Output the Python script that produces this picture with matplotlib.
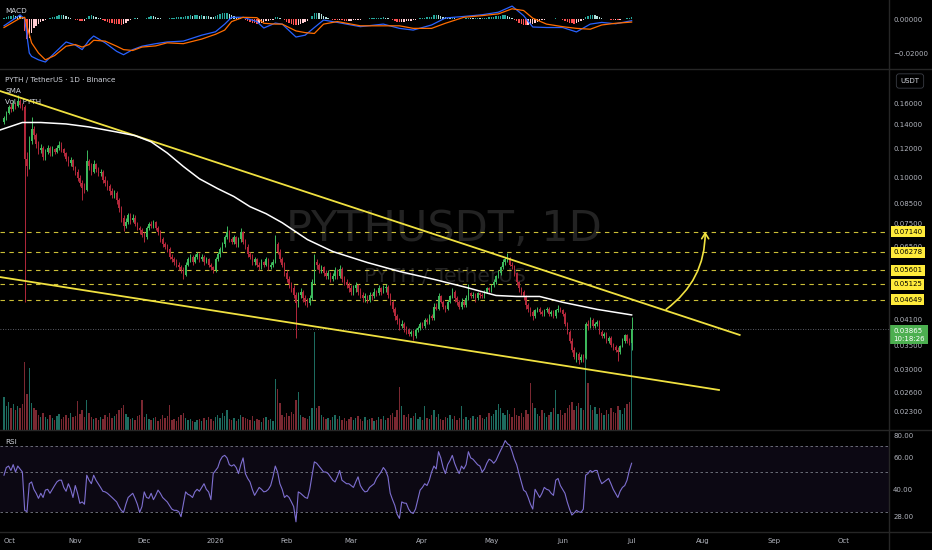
import numpy as np
import matplotlib
matplotlib.use("Agg")
import matplotlib.pyplot as plt
import matplotlib.transforms as mtrans
from matplotlib.patches import FancyArrowPatch
from matplotlib.lines import Line2D
from matplotlib.ticker import NullLocator

plt.rcParams['font.family'] = ['DejaVu Sans']

# ---- data: one daily candle per entry, day 0 = 2025-10-01 ----
start_date = np.datetime64("2025-10-01")
first_open = 0.142
closes = [
    0.146, 0.150, 0.156, 0.154, 0.159, 0.157, 0.162, 0.158, 0.156, 0.113,
    0.108, 0.126, 0.136, 0.131, 0.124, 0.119, 0.121, 0.114, 0.118, 0.121,
    0.117, 0.120, 0.118, 0.121, 0.123, 0.120, 0.117, 0.113, 0.110, 0.112,
    0.107, 0.104, 0.100, 0.097, 0.094, 0.093, 0.111, 0.108, 0.104, 0.109,
    0.106, 0.103, 0.104, 0.099, 0.097, 0.095, 0.092, 0.090, 0.091, 0.087,
    0.083, 0.078, 0.074, 0.076, 0.079, 0.077, 0.078, 0.075, 0.073, 0.072,
    0.070, 0.069, 0.073, 0.075, 0.074, 0.076, 0.073, 0.071, 0.068, 0.066,
    0.065, 0.064, 0.061, 0.060, 0.059, 0.058, 0.057, 0.056, 0.0545, 0.058,
    0.060, 0.061, 0.059, 0.061, 0.062, 0.060, 0.061, 0.059, 0.060, 0.058,
    0.057, 0.056, 0.060, 0.062, 0.064, 0.066, 0.069, 0.071, 0.068, 0.067,
    0.069, 0.066, 0.068, 0.071, 0.067, 0.065, 0.062, 0.061, 0.059, 0.060,
    0.058, 0.057, 0.059, 0.058, 0.060, 0.057, 0.058, 0.059, 0.066, 0.063,
    0.060, 0.058, 0.055, 0.053, 0.0515, 0.050, 0.048, 0.0455, 0.048, 0.049,
    0.047, 0.046, 0.0455, 0.047, 0.052, 0.059, 0.058, 0.056, 0.057, 0.055,
    0.054, 0.055, 0.053, 0.054, 0.056, 0.054, 0.0565, 0.053, 0.052, 0.051,
    0.050, 0.049, 0.050, 0.051, 0.049, 0.048, 0.047, 0.0475, 0.0465, 0.048,
    0.0475, 0.049, 0.0485, 0.050, 0.049, 0.050, 0.0505, 0.048, 0.046, 0.044,
    0.042, 0.041, 0.0395, 0.040, 0.039, 0.0385, 0.0375, 0.038, 0.037, 0.0385,
    0.039, 0.040, 0.0395, 0.041, 0.0405, 0.042, 0.0415, 0.0445, 0.044, 0.0475,
    0.046, 0.0445, 0.044, 0.046, 0.0475, 0.049, 0.047, 0.046, 0.0445, 0.046,
    0.045, 0.047, 0.0485, 0.0475, 0.048, 0.047, 0.0485, 0.048, 0.0475, 0.049,
    0.050, 0.0495, 0.051, 0.052, 0.054, 0.055, 0.057, 0.059, 0.060, 0.0605,
    0.058, 0.0575, 0.055, 0.052, 0.050, 0.049, 0.0475, 0.045, 0.044, 0.043,
    0.042, 0.0435, 0.044, 0.043, 0.0425, 0.0435, 0.044, 0.0425, 0.043, 0.042,
    0.0435, 0.044, 0.0435, 0.0425, 0.040, 0.038, 0.036, 0.034, 0.0325, 0.033,
    0.0318, 0.0325, 0.0322, 0.040, 0.0395, 0.041, 0.0395, 0.040, 0.0405, 0.038,
    0.037, 0.0375, 0.036, 0.0365, 0.035, 0.0345, 0.034, 0.0335, 0.0348, 0.036,
    0.0372, 0.036, 0.0355, 0.03865,
]
highs = [
    0.148, 0.152, 0.158, 0.160, 0.163, 0.161, 0.168, 0.164, 0.160, 0.158,
    0.118, 0.130, 0.147, 0.139, 0.133, 0.126, 0.124, 0.122, 0.120, 0.123,
    0.122, 0.122, 0.121, 0.123, 0.126, 0.125, 0.121, 0.118, 0.115, 0.114,
    0.113, 0.108, 0.106, 0.102, 0.099, 0.097, 0.119, 0.113, 0.110, 0.112,
    0.110, 0.107, 0.106, 0.105, 0.101, 0.099, 0.096, 0.094, 0.093, 0.092,
    0.088, 0.084, 0.079, 0.078, 0.080, 0.080, 0.0795, 0.079, 0.076, 0.074,
    0.073, 0.071, 0.074, 0.076, 0.0765, 0.077, 0.0765, 0.074, 0.072, 0.069,
    0.067, 0.066, 0.065, 0.062, 0.061, 0.060, 0.059, 0.058, 0.057, 0.059,
    0.061, 0.062, 0.0615, 0.062, 0.063, 0.0625, 0.062, 0.0615, 0.061, 0.0605,
    0.0585, 0.0575, 0.061, 0.063, 0.065, 0.067, 0.070, 0.074, 0.072, 0.069,
    0.070, 0.0695, 0.069, 0.073, 0.0715, 0.068, 0.066, 0.063, 0.062, 0.061,
    0.0605, 0.059, 0.060, 0.0595, 0.061, 0.0605, 0.059, 0.060, 0.070, 0.067,
    0.064, 0.061, 0.059, 0.056, 0.054, 0.052, 0.051, 0.049, 0.049, 0.050,
    0.0495, 0.048, 0.047, 0.048, 0.053, 0.062, 0.060, 0.0585, 0.058, 0.0575,
    0.056, 0.056, 0.0555, 0.055, 0.057, 0.0565, 0.058, 0.057, 0.054, 0.053,
    0.052, 0.051, 0.051, 0.052, 0.0515, 0.050, 0.049, 0.0485, 0.048, 0.049,
    0.0485, 0.050, 0.0495, 0.051, 0.0505, 0.051, 0.0515, 0.051, 0.0485, 0.0465,
    0.0445, 0.0425, 0.0415, 0.041, 0.0405, 0.0395, 0.039, 0.0385, 0.0385, 0.039,
    0.0395, 0.0405, 0.0405, 0.0415, 0.0415, 0.0425, 0.0425, 0.0455, 0.0455, 0.0485,
    0.048, 0.0465, 0.045, 0.0465, 0.048, 0.050, 0.0495, 0.0475, 0.0465, 0.047,
    0.0465, 0.048, 0.0515, 0.049, 0.049, 0.0485, 0.049, 0.049, 0.0485, 0.0495,
    0.0505, 0.0505, 0.0515, 0.053, 0.0545, 0.056, 0.0575, 0.060, 0.061, 0.0625,
    0.061, 0.059, 0.058, 0.0555, 0.0525, 0.0505, 0.0495, 0.048, 0.0455, 0.0445,
    0.0435, 0.044, 0.0445, 0.0445, 0.0435, 0.044, 0.0445, 0.0445, 0.0435, 0.0435,
    0.044, 0.045, 0.0445, 0.044, 0.043, 0.0405, 0.0385, 0.0365, 0.0345, 0.0335,
    0.0335, 0.033, 0.033, 0.0405, 0.041, 0.0418, 0.0415, 0.0405, 0.041, 0.041,
    0.0385, 0.038, 0.038, 0.037, 0.037, 0.0355, 0.035, 0.0345, 0.035, 0.0365,
    0.0375, 0.0375, 0.0365, 0.0418,
]
lows = [
    0.140, 0.144, 0.149, 0.151, 0.152, 0.154, 0.156, 0.155, 0.153, 0.046,
    0.101, 0.106, 0.124, 0.128, 0.121, 0.116, 0.117, 0.112, 0.112, 0.116,
    0.115, 0.115, 0.116, 0.117, 0.119, 0.118, 0.115, 0.111, 0.108, 0.108,
    0.105, 0.102, 0.098, 0.095, 0.087, 0.091, 0.092, 0.105, 0.102, 0.103,
    0.104, 0.101, 0.101, 0.097, 0.095, 0.093, 0.090, 0.088, 0.088, 0.085,
    0.081, 0.076, 0.0715, 0.073, 0.075, 0.075, 0.076, 0.074, 0.072, 0.0705,
    0.069, 0.067, 0.068, 0.072, 0.073, 0.073, 0.072, 0.070, 0.067, 0.065,
    0.064, 0.063, 0.060, 0.059, 0.058, 0.057, 0.056, 0.055, 0.053, 0.054,
    0.0575, 0.059, 0.058, 0.0585, 0.060, 0.059, 0.0595, 0.058, 0.0585, 0.057,
    0.056, 0.055, 0.0555, 0.0595, 0.061, 0.063, 0.065, 0.068, 0.067, 0.066,
    0.066, 0.065, 0.065, 0.067, 0.066, 0.064, 0.061, 0.060, 0.058, 0.058,
    0.057, 0.056, 0.0565, 0.057, 0.0575, 0.056, 0.0565, 0.057, 0.0585, 0.062,
    0.059, 0.057, 0.054, 0.052, 0.050, 0.049, 0.047, 0.0365, 0.0445, 0.047,
    0.046, 0.045, 0.0445, 0.045, 0.0465, 0.0515, 0.0565, 0.055, 0.055, 0.054,
    0.053, 0.053, 0.052, 0.0525, 0.053, 0.053, 0.0535, 0.052, 0.051, 0.050,
    0.049, 0.048, 0.048, 0.049, 0.048, 0.047, 0.046, 0.046, 0.0455, 0.046,
    0.0465, 0.047, 0.0475, 0.048, 0.048, 0.0485, 0.049, 0.047, 0.045, 0.043,
    0.041, 0.040, 0.0385, 0.039, 0.038, 0.0375, 0.037, 0.037, 0.0362, 0.0365,
    0.038, 0.0385, 0.039, 0.039, 0.040, 0.040, 0.041, 0.041, 0.0435, 0.0435,
    0.0455, 0.044, 0.043, 0.0435, 0.0455, 0.047, 0.046, 0.045, 0.044, 0.044,
    0.0445, 0.0445, 0.0465, 0.047, 0.047, 0.046, 0.0465, 0.047, 0.047, 0.047,
    0.0485, 0.049, 0.049, 0.0505, 0.0515, 0.0535, 0.0545, 0.0565, 0.058, 0.059,
    0.0575, 0.0565, 0.054, 0.051, 0.049, 0.048, 0.0465, 0.044, 0.043, 0.042,
    0.041, 0.0415, 0.043, 0.0425, 0.042, 0.042, 0.043, 0.042, 0.042, 0.0415,
    0.0415, 0.043, 0.043, 0.042, 0.0395, 0.0375, 0.0355, 0.0335, 0.032, 0.0315,
    0.031, 0.0315, 0.0315, 0.032, 0.0385, 0.039, 0.039, 0.039, 0.0395, 0.0375,
    0.0365, 0.0365, 0.0355, 0.0355, 0.0345, 0.034, 0.0335, 0.0316, 0.033, 0.0345,
    0.0355, 0.0355, 0.035, 0.034,
]
volumes = [
    30, 22, 26, 20, 24, 18, 22, 20, 24, 63, 33, 57, 25,
    20, 18, 14, 12, 16,
    12, 10, 14, 11, 9, 13, 15, 10, 12, 14, 11, 16, 12, 13, 27,
    15, 18, 12, 28, 16, 12, 10, 11,
    9, 12, 10, 14, 12, 16, 11, 13, 15, 18, 20, 23,
    15, 12, 10, 11, 9, 13, 14, 28,
    12, 15, 10, 9, 11, 12, 8, 10, 14, 11, 13, 23,
    9, 10, 8, 12, 14, 16, 11, 9, 10, 8, 7, 9, 10, 8, 11, 9, 12, 10, 8,
    12, 14, 11, 16, 13, 18, 10, 9, 11, 8, 10, 14, 12, 11, 10, 9, 13, 8, 10, 9,
    7, 11, 12, 9, 10, 8,
    47, 38, 25, 14, 12, 16, 13, 17, 15, 28, 35,
    14, 12, 11, 10, 13, 20, 90,
    20, 22, 14, 12, 10, 11, 9, 12, 14, 10, 13, 9, 11, 8, 10, 12, 9, 11,
    13, 10, 8, 12, 9, 10, 11, 8, 9, 12, 10, 13, 9, 11, 14, 16, 12, 18,
    40,
    22, 14, 12, 15, 11, 13, 16, 10, 12, 9, 22, 11, 10, 14, 18, 12, 15, 10, 9, 12,
    11, 14, 10, 13, 9, 11, 22, 10, 12, 9, 11, 13, 10, 12, 14, 11, 10, 12, 16, 13,
    15, 18, 24, 20, 16, 14, 18, 15, 12, 20, 14, 13, 16, 12, 18, 15,
    43,
    25, 20, 15, 13, 18, 16, 12, 14, 17, 20, 37, 15, 18, 14, 16, 20, 23, 26, 18, 22,
    25, 20, 18, 67, 43,
    23, 18, 21, 15, 20, 16, 14, 18, 15, 20, 17, 16, 22, 18, 15, 20, 24, 26, 80,
]
# MACD histogram, units of 1e-4
macd_hist = [
    8, 12, 18, 20, 22, 20, 18, 15, 5, -70, -120, -110, -80,
    -55, -40, -30, -20, -12, -5, 2, 6, 10, 14,
    20, 24, 26, 22, 16, 10, 6, 2, -4, -8, -12, -14,
    -10, 8, 18, 24, 20, 14, 8, 4,
    -4, -10, -16, -22, -26, -28, -30, -32, -34, -30, -22, -14,
    -6, 2, 6, 4, 2, -2,
    2, 8, 14, 16, 15, 12, 8, 4, 2, 0, 2, 4,
    6, 8, 9, 10, 12, 14, 18, 20, 22, 20, 22, 24, 20, 22, 18, 20, 16, 14, 12,
    18, 24, 30, 34, 36, 36, 30, 24, 20, 14, 10, 8, 2, -6, -14, -20, -24,
    -26, -28, -26, -22, -18, -14, -10, -6, -4,
    10, 14, 8, 2,
    -8, -16, -24, -30, -34, -38, -34, -28, -22, -16, -10,
    0, 16, 34, 38, 34, 28, 20,
    12, 6, 0, -4, -6, -8, -6, -8, -10, -12, -12,
    -10, -8, -6, -4, -4, -2, 0, 2, 4, 4, 6, 8, 8, 8, 10, 8, 4, -2,
    -8, -14, -18, -20, -20, -18, -14, -12, -10, -8, -4, 0,
    4, 6, 8, 10, 12, 14, 22, 24, 22, 18, 14, 10, 8, 6,
    8, 6, 2, -2, 0, 2, 4, 8, 6, 4, 4, 6, 4, 4, 6, 8,
    10, 12, 14, 16, 18, 20, 22, 22, 20, 14, 8,
    -4, -14, -24, -32, -36, -38, -38, -34, -28, -22, -16, -12, -8, -4, -2,
    0, 2, 2, 4, 2, 0, -4, -10, -16, -22, -26, -28, -26,
    -20, -14, -8, 10, 20, 26, 26, 22, 18, 10, 4,
    0, -2, -2, -4, -6, -6, -8, -6, -2, 2, 4, 4, 12,
]
rsi = [
    48, 53, 54, 51, 55, 50, 54, 52, 50, 30.5,
    30, 43, 44, 40, 38, 35.6, 38, 36, 39.6, 40,
    38, 40, 42, 44, 45, 45, 41, 39, 43, 40,
    36, 42, 38, 33.4, 34, 33, 48, 45, 43, 48,
    45, 43, 41, 39, 38.7, 38, 37, 36, 35, 34,
    32, 30.5, 29.7, 33, 36, 37, 38, 35.6, 33, 29.7,
    32, 38.7, 36, 35.6, 38, 35, 37, 39.6, 38, 36,
    35, 34, 32.5, 31, 30.5, 30.5, 30, 28.1, 33, 38.7,
    37.5, 37, 36, 38.7, 40, 39, 41, 43, 40, 38.7,
    35, 49, 51, 53, 58, 61, 62, 60, 55, 54,
    55, 53, 49, 55, 60, 49, 46, 44, 40, 37,
    39, 41, 40, 38.7, 39, 40, 42, 47, 54, 50,
    43, 40, 36, 37, 36, 34, 32, 26.3, 38.7, 38,
    37, 36, 35.6, 40, 48, 57, 56, 54, 52, 50,
    50, 49, 47, 45, 44, 47, 51, 45, 44, 43,
    43, 42, 41, 44, 47, 42, 40, 38.7, 39, 41,
    42, 43, 46, 48, 50, 53, 51, 47, 38, 35,
    32.5, 29, 27.5, 34, 33.5, 33.4, 31, 29.7, 29.3, 31,
    35, 39.6, 41, 43, 42, 45, 50, 54, 52, 65,
    60, 53, 49, 55, 58, 62, 56, 52, 49, 54,
    52, 55, 65, 60, 59, 57, 55, 54, 50, 52,
    56, 59, 58, 56, 58, 62, 66, 70, 75, 72,
    70.6, 65, 59, 55, 49, 44, 39.6, 38.7, 36, 33,
    31, 40, 38, 36, 38, 41, 40, 39.6, 38, 37,
    45, 46, 42, 40, 38, 34, 31, 28.7, 29.5, 30.5,
    29.9, 29.7, 31, 48, 49, 51, 50, 51, 51, 46,
    43, 44, 45, 46, 43, 40, 38, 36, 39, 41,
    42, 45, 51, 56,
]

sma_days = [-2, 8, 16, 27, 37, 49, 57, 64, 71, 78, 85, 93, 100, 107, 114, 121,
            132, 143, 158, 172, 187, 201, 214, 223, 233, 243, 258, 273]
sma_vals = [0.1350, 0.1417, 0.1417, 0.1404, 0.1378, 0.1335, 0.1305, 0.1255,
            0.1170, 0.1075, 0.0995, 0.0935, 0.0890, 0.0835, 0.0799, 0.0755,
            0.0679, 0.0630, 0.0588, 0.0556, 0.0529, 0.0503, 0.0478, 0.0475,
            0.0475, 0.0458, 0.0438, 0.0423]

macd_days = [0, 7, 9, 11, 12, 15, 18, 22, 27, 31, 34, 37, 39, 44, 49, 52, 56,
             60, 66, 71, 78, 86, 92, 96, 99, 104, 110, 113, 118, 121, 127, 131,
             135, 139, 145, 155, 165, 172, 178, 186, 192, 200, 208, 215, 221,
             226, 230, 236, 243, 249, 255, 260, 266, 273]
macd_line = [-0.004, 0.0024, 0.000, -0.020, -0.022, -0.024, -0.0253, -0.020,
             -0.0135, -0.0153, -0.018, -0.0125, -0.010, -0.014, -0.019, -0.021,
             -0.018, -0.016, -0.0145, -0.0135, -0.013, -0.0095, -0.0075, -0.003,
             0.001, 0.001, -0.0015, -0.0053, -0.0024, -0.003, -0.0106, -0.0095,
             -0.005, -0.0006, -0.002, -0.0045, -0.003, -0.0055, -0.0065, -0.0035,
             0.0006, 0.0015, 0.0025, 0.004, 0.0076, 0.002, -0.0047, -0.005,
             -0.005, -0.0076, -0.003, -0.002, -0.0028, -0.001]
signal_line = [-0.005, 0.0005, 0.001, -0.009, -0.014, -0.020, -0.024, -0.0215,
               -0.016, -0.015, -0.0165, -0.015, -0.0125, -0.013, -0.016, -0.018,
               -0.0185, -0.0165, -0.0158, -0.014, -0.0145, -0.0118, -0.009,
               -0.0065, -0.0015, 0.001, 0.0008, -0.0025, -0.003, -0.003, -0.007,
               -0.008, -0.0085, -0.003, -0.0015, -0.004, -0.004, -0.004, -0.0055,
               -0.0055, -0.0025, 0.001, 0.002, 0.003, 0.006, 0.005, 0.0005,
               -0.003, -0.0045, -0.0055, -0.006, -0.0035, -0.0025, -0.0018]

# drawn trendlines (date, price)
upper_trend_dates = ["2025-09-29", "2026-08-17"]
upper_trend_prices = [0.1729, 0.0373]
lower_trend_dates = ["2025-09-29", "2026-08-08"]
lower_trend_prices = [0.0537, 0.0264]
arrow_dates = ["2026-07-16", "2026-08-02"]
arrow_prices = [0.0438, 0.0714]

levels = [0.07140, 0.06278, 0.05601, 0.05125, 0.04649]
last_price = 0.03865
countdown = "10:18:26"

price_ticks = [0.16, 0.14, 0.12, 0.10, 0.085, 0.075, 0.065, 0.041, 0.035,
               0.030, 0.026, 0.023]
macd_ticks = [0.0, -0.02]
rsi_ticks = [80, 60, 40, 28]
month_dates = ["2025-10-01", "2025-11-01", "2025-12-01", "2026-01-01",
               "2026-02-01", "2026-03-01", "2026-04-01", "2026-05-01",
               "2026-06-01", "2026-07-01", "2026-08-01", "2026-09-01",
               "2026-10-01"]
month_labels = ["Oct", "Nov", "Dec", "2026", "Feb", "Mar", "Apr", "May", "Jun",
                "Jul", "Aug", "Sep", "Oct"]

# ---- prep ----
closes = np.array(closes)
highs = np.array(highs)
lows = np.array(lows)
n = len(closes)
days = np.arange(n)
opens = np.r_[first_open, closes[:-1]]
rising = closes >= opens


def to_days(dates):
    return (np.array(dates, dtype="datetime64[D]") - start_date).astype(int)


BG = "#000000"
TXT = "#b2b5be"
UP = "#3dbb5d"
DOWN = "#b3283b"
YEL = "#f0e140"

W, H = 932, 550
fig = plt.figure(figsize=(W / 100, H / 100), dpi=100, facecolor=BG)


def rect(top, bottom):
    return [0, 1 - bottom / H, 889 / W, (bottom - top) / H]


ax_macd = fig.add_axes(rect(0, 69))
ax_vol = fig.add_axes(rect(69, 430), sharex=ax_macd)
ax = fig.add_axes(rect(69, 430), sharex=ax_macd)
ax_rsi = fig.add_axes(rect(430, 532), sharex=ax_macd)

for a in (ax_macd, ax_vol, ax, ax_rsi):
    a.set_facecolor(BG)
    for s in a.spines.values():
        s.set_visible(False)
    a.tick_params(colors=TXT, labelsize=5, length=0, pad=3)
    a.yaxis.tick_right()
ax.set_facecolor("none")
for a in (ax_macd, ax_vol, ax):
    a.tick_params(axis="x", labelbottom=False)
ax_vol.set_yticks([])

ax_macd.set_xlim(-1.74, 384.95)

# ---- volume + watermark (background layer) ----
ax_vol.bar(days, volumes, width=0.6, linewidth=0,
           color=np.where(rising, "#1d6b5f", "#7a2831"))
ax_vol.set_ylim(0, max(volumes) * 3.7)
ax_vol.text(444 / 889, 0.557, "PYTHUSDT, 1D", transform=ax_vol.transAxes,
            fontsize=31, color="#232323", ha="center", va="center")
ax_vol.text(445 / 889, 0.424, "PYTH / TetherUS", transform=ax_vol.transAxes,
            fontsize=14.5, color="#232323", ha="center", va="center")

# ---- price ----
ax.set_yscale("log")
ax.set_ylim(0.02053, 0.1983)
ax.set_yticks(price_ticks)
ax.set_yticklabels([f"{t:.5f}" for t in price_ticks])
ax.yaxis.set_minor_locator(NullLocator())

for lv in levels:
    ax.axhline(lv, color=YEL, ls=(0, (4, 4)), lw=0.8, alpha=0.85, zorder=2)
ax.axhline(last_price, color="#787b86", ls=(0, (1, 2)), lw=0.6, zorder=2)

ax.plot(to_days(upper_trend_dates), upper_trend_prices, color=YEL, lw=1.3, zorder=5)
ax.plot(to_days(lower_trend_dates), lower_trend_prices, color=YEL, lw=1.3, zorder=5)
ax.plot(sma_days, sma_vals, color="#ffffff", lw=1.1, zorder=5)

cols = np.where(rising, UP, DOWN)
ax.vlines(days, lows, highs, colors=cols, lw=0.7, zorder=3)
body_low = np.minimum(opens, closes)
ax.bar(days, np.abs(closes - opens), bottom=body_low, width=0.62,
       color=cols, linewidth=0, zorder=4)

ad = to_days(arrow_dates)
ax.add_patch(FancyArrowPatch((ad[0], arrow_prices[0]), (ad[1], arrow_prices[1]),
                             connectionstyle="arc3,rad=0.25",
                             arrowstyle="->,head_length=4,head_width=2.5",
                             color=YEL, lw=1.2, shrinkA=0, shrinkB=0, zorder=6))

lbl = dict(transform=ax.transAxes, fontsize=5.2, color="#d1d4dc", ha="left", va="center")
ax.text(5 / 889, 0.9695, "PYTH / TetherUS · 1D · Binance", **lbl)
ax.text(5 / 889, 0.939, "SMA", **lbl)
ax.text(5 / 889, 0.9086, "Vol · PYTH", **lbl)

tag_tf = mtrans.blended_transform_factory(ax.transAxes, ax.transData)
for lv in levels:
    ax.text(1.0 + 4 / 889, lv, f"{lv:.5f}", transform=tag_tf, fontsize=5,
            color="black", ha="left", va="center", clip_on=False, zorder=10,
            bbox=dict(boxstyle="square,pad=0.35", fc="#ffeb3b", ec="none"))
ax.annotate(f"{last_price:.5f}\n{countdown}", xy=(1.0, last_price),
            xycoords=tag_tf, xytext=(3, -4), textcoords="offset points",
            fontsize=5, color="white", ha="left", va="center", linespacing=1.3,
            annotation_clip=False, zorder=11,
            bbox=dict(boxstyle="square,pad=0.4", fc="#4caf50", ec="none"))

# ---- MACD ----
hist = np.array(macd_hist) * 1e-4
prev = np.r_[0.0, hist[:-1]]
hcol = np.where(hist >= 0, np.where(hist >= prev, "#26a69a", "#b2dfdb"),
                np.where(hist < prev, "#ff5252", "#ffcdd2"))
ax_macd.bar(days, hist, width=0.6, color=hcol, linewidth=0)
ax_macd.plot(macd_days, macd_line, color="#2962ff", lw=0.9)
ax_macd.plot(macd_days, signal_line, color="#ff6d00", lw=0.9)
ax_macd.set_ylim(-0.0294, 0.01118)
ax_macd.set_yticks(macd_ticks)
ax_macd.set_yticklabels(["0.00000", "\u22120.02000"])
ax_macd.text(5 / 889, 0.84, "MACD", transform=ax_macd.transAxes, fontsize=5.2,
             color="#d1d4dc", ha="left", va="center")

# ---- RSI ----
ax_rsi.set_yscale("log")
ax_rsi.set_ylim(23.06, 86.0)
ax_rsi.axhspan(30, 70, color="#7e57c2", alpha=0.1, lw=0)
for lv in (70, 50, 30):
    ax_rsi.axhline(lv, color="#787b86", ls=(0, (3, 3)), lw=0.6)
ax_rsi.plot(days, rsi, color="#7e6fd0", lw=0.8)
ax_rsi.set_yticks(rsi_ticks)
ax_rsi.set_yticklabels([f"{v:.2f}" for v in rsi_ticks])
ax_rsi.yaxis.set_minor_locator(NullLocator())
ax_rsi.text(5 / 889, 0.882, "RSI", transform=ax_rsi.transAxes, fontsize=5.2,
            color="#d1d4dc", ha="left", va="center")
ax_rsi.set_xticks(to_days(month_dates))
ax_rsi.set_xticklabels(month_labels)
ax_rsi.tick_params(axis="x", pad=4)
ax_rsi.get_xticklabels()[0].set_ha("left")

# ---- pane separators, currency box ----
for ypx in (69, 430, 532):
    fig.add_artist(Line2D([0, 1], [1 - ypx / H] * 2, color="#262626", lw=1))
fig.add_artist(Line2D([889 / W] * 2, [0, 1], color="#262626", lw=1))
fig.text(910 / W, 1 - 81 / H, "USDT", fontsize=5, color="#d1d4dc",
         ha="center", va="center",
         bbox=dict(boxstyle="round,pad=0.6,rounding_size=0.4", fc=BG,
                   ec="#3a3d45", lw=0.6))

fig.savefig("out.png", dpi=100, facecolor=BG)
